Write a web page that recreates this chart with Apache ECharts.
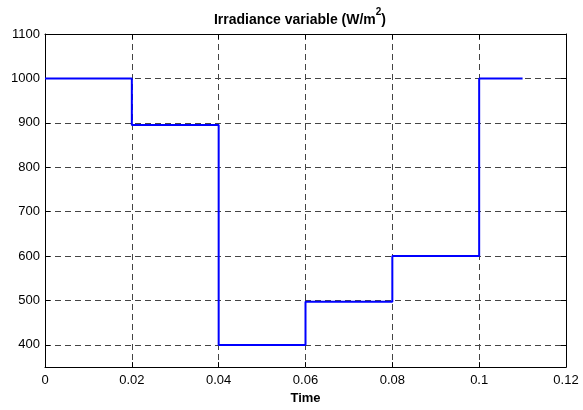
<!DOCTYPE html>
<html>
<head>
<meta charset="utf-8">
<script src="https://cdn.jsdelivr.net/npm/echarts@6/dist/echarts.min.js"></script>
<style>
  html, body { margin: 0; padding: 0; background: #fff; }
  #chart { width: 583px; height: 410px; }
</style>
</head>
<body>
<div id="chart"></div>
<script>
// Irradiance steps: each level holds from its start time until the next one
const stepTimes = [0, 0.02, 0.04, 0.06, 0.08, 0.1, 0.11];
const irradiance = [1000, 895, 400, 497, 600, 1000, 1000];
const xTicks = [0, 0.02, 0.04, 0.06, 0.08, 0.1, 0.12];
const yTicks = [400, 500, 600, 700, 800, 900, 1000, 1100];

const points = stepTimes.map((t, i) => [t, irradiance[i]]);
const font = '"Liberation Sans", Arial, sans-serif';

const chart = echarts.init(document.getElementById('chart'), null, { renderer: 'canvas' });

const gridLine = { show: true, lineStyle: { color: '#444', width: 1, type: [6, 4] } };

function xAxisDef(pos, labels) {
  return {
    type: 'value', position: pos, min: 0, max: 0.12, interval: 0.02,
    axisLine: { show: true, onZero: false, lineStyle: { color: '#000', width: 1 } },
    axisTick: { show: true, inside: true, length: 5, customValues: xTicks, lineStyle: { color: '#000' } },
    axisLabel: { show: labels, color: '#000', fontFamily: font, fontSize: 13, margin: 7,
                 customValues: xTicks, formatter: v => String(+(+v).toFixed(2)) },
    splitLine: labels ? gridLine : { show: false },
    name: labels ? 'Time' : '', nameLocation: 'middle', nameGap: 24,
    nameTextStyle: { color: '#000', fontFamily: font, fontSize: 13, fontWeight: 'bold' }
  };
}
function yAxisDef(pos, labels) {
  return {
    type: 'value', position: pos, min: 350, max: 1100, interval: 50,
    axisLine: { show: true, onZero: false, lineStyle: { color: '#000', width: 1 } },
    axisTick: { show: true, inside: true, length: 5, customValues: yTicks, lineStyle: { color: '#000' } },
    axisLabel: { show: labels, color: '#000', fontFamily: font, fontSize: 13, margin: 5,
                 customValues: yTicks, formatter: v => String(v) },
    splitLine: labels ? gridLine : { show: false }
  };
}

chart.setOption({
  animation: false,
  backgroundColor: '#fff',
  title: {
    text: '{t|Irradiance variable (W/m}{s|2}{t|)}',
    left: 295, top: 2, textAlign: 'center',
    textStyle: {
      rich: {
        t: { fontFamily: font, fontSize: 14, fontWeight: 'bold', color: '#000', verticalAlign: 'bottom', lineHeight: 20 },
        s: { fontFamily: font, fontSize: 10, fontWeight: 'bold', color: '#000', verticalAlign: 'top', lineHeight: 20 }
      }
    }
  },
  grid: { left: 45, right: 17, top: 34, bottom: 41, show: false },
  xAxis: [xAxisDef('bottom', true), xAxisDef('top', false)],
  yAxis: [yAxisDef('left', true), yAxisDef('right', false)],
  series: [{
    type: 'line',
    data: points,
    step: 'end',
    showSymbol: false,
    lineStyle: { color: '#0000ff', width: 2 },
    z: 5
  }]
});
</script>
</body>
</html>
